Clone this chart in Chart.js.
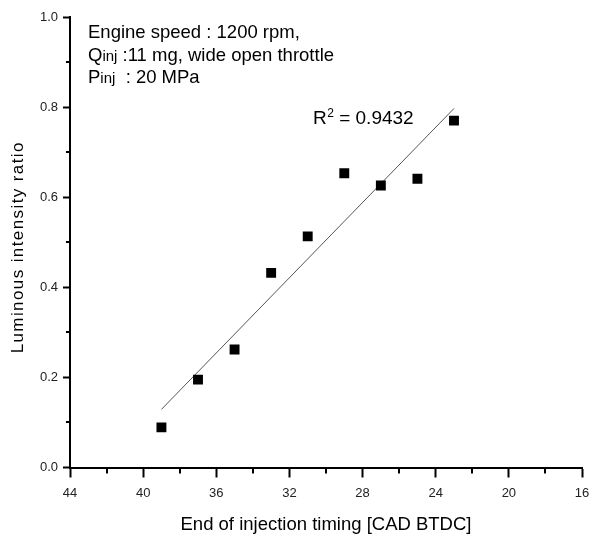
<!DOCTYPE html>
<html>
<head>
<meta charset="utf-8">
<script src="https://cdn.jsdelivr.net/npm/chart.js@4"></script>
<style>
  html, body { margin: 0; padding: 0; background: #fff; }
  #wrap { width: 590px; height: 539px; }
</style>
</head>
<body>
<div id="wrap"><canvas id="eoiChart" width="590" height="539"></canvas></div>
<script>
///////////////////////
// data
///////////////////////
const eoiTiming = [39, 37, 35, 33, 31, 29, 27, 25, 23];          // CAD BTDC
const luminousRatio = [0.089, 0.195, 0.262, 0.432, 0.513, 0.653, 0.626, 0.641, 0.770];
const fitX = [39, 23];
const fitY = [0.129, 0.797];
const xTicks = [44, 40, 36, 32, 28, 24, 20, 16];
const yTicks = [0.0, 0.2, 0.4, 0.6, 0.8, 1.0];
// each line: [text, small?] pieces
const infoLines = [
    [['Engine speed : 1200 rpm,', false]],
    [['Q', false], ['inj', true], [' :11 mg, wide open throttle', false]],
    [['P', false], ['inj', true], ['  : 20 MPa', false]]
];
const r2Value = ' = 0.9432';
const yTitle = 'Luminous intensity ratio';

const FONT = "'Liberation Sans', Arial, sans-serif";

// minor ticks + text annotations
const extrasPlugin = {
    id: 'extras',
    afterDraw(chart) {
        const { ctx, scales: { x, y } } = chart;
        ctx.save();
        ctx.strokeStyle = '#000';
        ctx.lineWidth = 2;
        // minor ticks on x (every 2 units between majors)
        for (let v = 42; v > 16; v -= 4) {
            const px = Math.round(x.getPixelForValue(v));
            ctx.beginPath();
            ctx.moveTo(px, y.bottom);
            ctx.lineTo(px, y.bottom + 6);
            ctx.stroke();
        }
        // minor ticks on y (every 0.1)
        for (let v = 0.1; v < 1; v += 0.2) {
            const py = Math.round(y.getPixelForValue(v));
            ctx.beginPath();
            ctx.moveTo(x.left, py);
            ctx.lineTo(x.left - 4, py);
            ctx.stroke();
        }

        ctx.fillStyle = '#000';
        ctx.textBaseline = 'alphabetic';
        ctx.textAlign = 'left';

        // info text top-left
        infoLines.forEach((parts, i) => {
            let cx = x.left + 18;
            const base = y.top + 21 + i * 22.5;
            parts.forEach(([txt, small]) => {
                ctx.font = (small ? '15px ' : '18.5px ') + FONT;
                ctx.fillText(txt, cx, base);
                cx += ctx.measureText(txt).width;
            });
        });

        // R^2 label
        let rx = 313;
        const rb = 124;
        ctx.font = '19px ' + FONT;
        ctx.fillText('R', rx, rb);
        rx += ctx.measureText('R').width + 0.5;
        ctx.font = '12px ' + FONT;
        ctx.fillText('2', rx, rb - 7);
        rx += ctx.measureText('2').width;
        ctx.font = '19px ' + FONT;
        ctx.fillText(r2Value, rx, rb);

        // y axis title (slightly spaced letters)
        ctx.translate(18, (y.top + y.bottom) / 2 + 5);
        ctx.rotate(-Math.PI / 2);
        ctx.font = '17px ' + FONT;
        ctx.letterSpacing = '1.4px';
        ctx.textAlign = 'center';
        ctx.textBaseline = 'middle';
        ctx.fillText(yTitle, 0, 0);
        ctx.restore();
    }
};

const ctx = document.getElementById('eoiChart').getContext('2d');

const chart = new Chart(ctx, {
    type: 'scatter',
    data: {
        datasets: [
            {
                label: 'measured',
                data: eoiTiming.map((t, i) => ({ x: t, y: luminousRatio[i] })),
                pointStyle: 'rect',
                pointRadius: 7,
                pointBackgroundColor: '#000',
                pointBorderColor: '#000',
                pointBorderWidth: 0,
                showLine: false
            },
            {
                label: 'fit',
                data: fitX.map((t, i) => ({ x: t, y: fitY[i] })),
                showLine: true,
                borderColor: '#555',
                borderWidth: 1,
                pointRadius: 0
            }
        ]
    },
    options: {
        responsive: false,
        animation: false,
        layout: { padding: { top: 17, right: 0, left: 0, bottom: 0 } },
        plugins: {
            legend: { display: false },
            tooltip: { enabled: false }
        },
        scales: {
            x: {
                type: 'linear',
                reverse: true,
                min: 16,
                max: 44,
                afterBuildTicks: scale => { scale.ticks = xTicks.map(v => ({ value: v })); },
                afterFit: scale => {
                    scale.height = 71.5;
                    scale.paddingLeft = 0;
                    scale.paddingRight = 8;
                },
                ticks: {
                    color: '#222',
                    font: { family: FONT, size: 13 },
                    padding: 8,
                    maxRotation: 0,
                    callback: v => String(v)
                },
                grid: {
                    drawOnChartArea: false,
                    drawTicks: true,
                    tickLength: 10,
                    tickWidth: 2,
                    tickColor: '#000'
                },
                border: { display: true, color: '#000', width: 2 },
                title: {
                    display: true,
                    text: 'End of injection timing [CAD BTDC]',
                    color: '#000',
                    font: { family: FONT, size: 18.5 },
                    padding: { top: 4, bottom: 3 }
                }
            },
            y: {
                type: 'linear',
                min: 0,
                max: 1,
                afterBuildTicks: scale => { scale.ticks = yTicks.map(v => ({ value: v })); },
                afterFit: scale => { scale.width = 70; },
                ticks: {
                    color: '#222',
                    font: { family: FONT, size: 13 },
                    padding: 5,
                    callback: v => Number(v).toFixed(1)
                },
                grid: {
                    drawOnChartArea: false,
                    drawTicks: true,
                    tickLength: 7,
                    tickWidth: 2,
                    tickColor: '#000'
                },
                border: { display: true, color: '#000', width: 2 }
            }
        }
    },
    plugins: [extrasPlugin]
});
</script>
</body>
</html>
